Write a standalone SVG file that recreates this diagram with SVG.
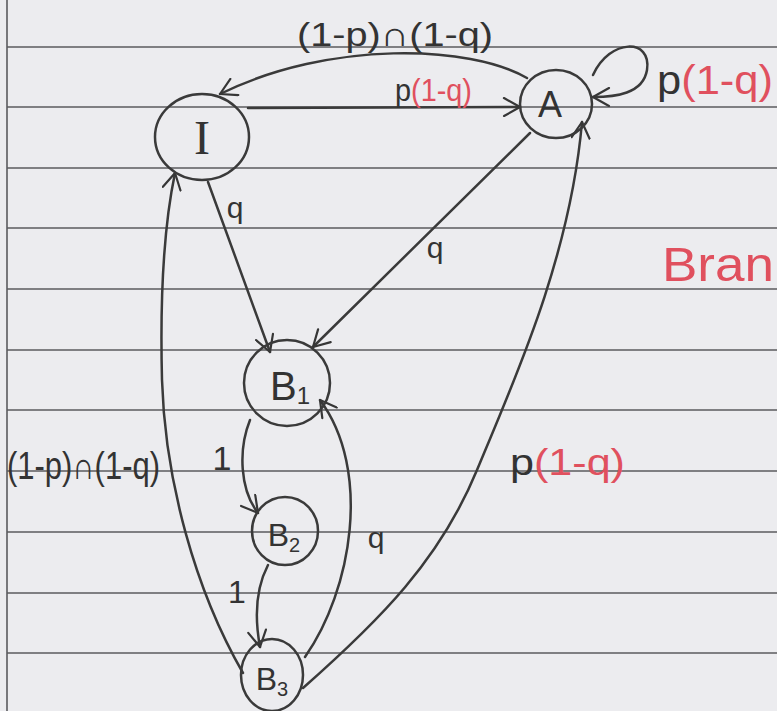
<svg xmlns="http://www.w3.org/2000/svg" width="777" height="711" viewBox="0 0 777 711">
<defs>
<marker id="arr" viewBox="0 0 20 20" refX="18" refY="10" markerWidth="20" markerHeight="20" markerUnits="userSpaceOnUse" orient="auto">
<path d="M2,1 L18,10 L2,19" fill="none" stroke="#363636" stroke-width="2.2" stroke-linecap="round" stroke-linejoin="round"/>
</marker>
</defs>
<style>
.rule{stroke:#5b5b5e;stroke-width:1.6}
.edge{fill:none;stroke:#3a3a3a;stroke-width:2.5;stroke-linecap:round;marker-end:url(#arr)}
.node{fill:none;stroke:#3a3a3a;stroke-width:2.5}
.t{font-family:"Liberation Sans","DejaVu Sans",sans-serif;fill:#333}
.s{font-family:"Liberation Serif","DejaVu Serif",serif;fill:#333}
.r{fill:#e0505e}
</style>
<rect width="777" height="711" fill="#ececef"/>
<g id="paper">
<line class="rule" x1="7" y1="0" x2="7" y2="711"/>
<line class="rule" x1="7" y1="47" x2="777" y2="47"/>
<line class="rule" x1="7" y1="107" x2="777" y2="107"/>
<line class="rule" x1="7" y1="168" x2="777" y2="168"/>
<line class="rule" x1="7" y1="228" x2="777" y2="228"/>
<line class="rule" x1="7" y1="289" x2="777" y2="289"/>
<line class="rule" x1="7" y1="350" x2="777" y2="350"/>
<line class="rule" x1="7" y1="410" x2="777" y2="410"/>
<line class="rule" x1="7" y1="471" x2="777" y2="471"/>
<line class="rule" x1="7" y1="532" x2="777" y2="532"/>
<line class="rule" x1="7" y1="593" x2="777" y2="593"/>
<line class="rule" x1="7" y1="653" x2="777" y2="653"/>
<text class="t r" x="662" y="281" font-size="48" textLength="112" lengthAdjust="spacingAndGlyphs">Bran</text>
</g>
<g id="connectors">
<path id="e-A-I" class="edge" d="M527,78 C470,45 330,40 220,94"/>
<path id="e-I-A" class="edge" d="M248,108 L520,107"/>
<path id="e-A-A" class="edge" d="M593,75 C610,38 652,38 647,70 C643,94 615,97 593,97"/>
<path id="e-I-B1" class="edge" d="M208,182 L270,352"/>
<path id="e-A-B1" class="edge" d="M530,133 L313,347"/>
<path id="e-B1-B2" class="edge" d="M250,420 C238,450 240,490 258,513"/>
<path id="e-B2-B3" class="edge" d="M268,565 C255,590 255,620 260,647"/>
<path id="e-B3-B1" class="edge" d="M305,657 C352,590 372,470 320,400"/>
<path id="e-B3-A" class="edge" d="M303,688 C380,620 440,560 477,470 C512,385 570,260 582,122"/>
<path id="e-B3-I" class="edge" d="M243,673 C195,590 165,480 162,380 C160,300 163,230 175,173"/>
<text class="t" x="395" y="46" font-size="34" text-anchor="middle" textLength="196" lengthAdjust="spacingAndGlyphs">(1-p)∩(1-q)</text>
<text class="t" x="395" y="101" font-size="31" textLength="77" lengthAdjust="spacingAndGlyphs">p<tspan class="r">(1-q)</tspan></text>
<text class="t" x="657" y="94" font-size="40" textLength="116" lengthAdjust="spacingAndGlyphs">p<tspan class="r">(1-q)</tspan></text>
<text class="t" x="235" y="218" font-size="30" text-anchor="middle">q</text>
<text class="t" x="435" y="258" font-size="30" text-anchor="middle">q</text>
<text class="t" x="222" y="470" font-size="34" text-anchor="middle">1</text>
<text class="t" x="237" y="603" font-size="32" text-anchor="middle">1</text>
<text class="t" x="376" y="548" font-size="30" text-anchor="middle">q</text>
<text class="t" x="510" y="475" font-size="36" textLength="115" lengthAdjust="spacingAndGlyphs">p<tspan class="r">(1-q)</tspan></text>
<text class="t" x="7" y="479" font-size="38" textLength="153" lengthAdjust="spacingAndGlyphs">(1-p)∩(1-q)</text>
</g>
<g id="node-I">
<ellipse class="node" cx="202" cy="137" rx="47" ry="43"/>
<text class="s" x="202" y="154" font-size="48" text-anchor="middle">I</text>
</g>
<g id="node-A">
<ellipse class="node" cx="556" cy="104" rx="36" ry="34"/>
<text class="t" x="550" y="117" font-size="36" text-anchor="middle">A</text>
</g>
<g id="node-B1">
<ellipse class="node" cx="287" cy="383" rx="43" ry="43"/>
<text class="t" x="290" y="400" font-size="40" text-anchor="middle">B<tspan font-size="24" dy="4">1</tspan></text>
</g>
<g id="node-B2">
<ellipse class="node" cx="285" cy="531" rx="33" ry="34"/>
<text class="t" x="284" y="546" font-size="32" text-anchor="middle">B<tspan font-size="20" dy="6">2</tspan></text>
</g>
<g id="node-B3">
<ellipse class="node" cx="272" cy="675" rx="31" ry="36"/>
<text class="t" x="272" y="690" font-size="32" text-anchor="middle">B<tspan font-size="20" dy="6">3</tspan></text>
</g>
</svg>
